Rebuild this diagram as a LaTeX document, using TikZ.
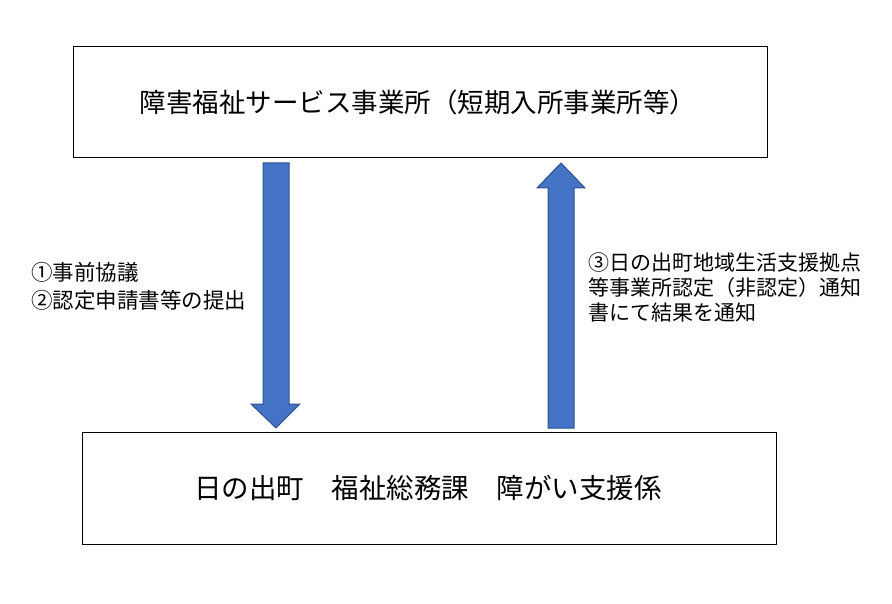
\documentclass[tikz,border=0pt]{standalone}
\usepackage{fontspec}
\setmainfont{Noto Sans CJK JP}
\usetikzlibrary{positioning}
\definecolor{arrowfill}{HTML}{4472C4}
\definecolor{arrowline}{HTML}{2F528F}
\begin{document}
\begin{tikzpicture}[x=1pt,y=-1pt,
        box/.style = {draw=black, line width=1pt},
        bigarrow/.style = {fill=arrowfill, draw=arrowline, line width=1pt},
        note/.style = {anchor=west, align=left, inner sep=0pt},
    ]
    \useasboundingbox (0,0) rectangle (892,604);
    % boxes
    \draw [box] (73,47) rectangle (767,158);
    \node (office) at (418,102) {\fontsize{26.5}{32}\selectfont 障害福祉サービス事業所（短期入所事業所等）};
    \draw [box] (82,432) rectangle (776,544);
    \node (town) at (428,488) {\fontsize{27.5}{32}\selectfont 日の出町\quad 福祉総務課\quad 障がい支援係};
    % arrows
    \draw [bigarrow] (263,163) -- (289,163) -- (289,404) -- (300,404) -- (276,428) -- (251,404) -- (263,404) -- cycle;
    \draw [bigarrow] (548,428) -- (574,428) -- (574,188) -- (585,188) -- (561,163) -- (537,188) -- (548,188) -- cycle;
    % labels
    \node [note, font=\fontsize{21.5}{28}\selectfont] (ask) at (31,286) {①事前協議\\②認定申請書等の提出};
    \node [note, font=\fontsize{21}{25}\selectfont] (reply) at (588,287) {③日の出町地域生活支援拠点\\等事業所認定（非認定）通知\\書にて結果を通知};
\end{tikzpicture}
\end{document}
